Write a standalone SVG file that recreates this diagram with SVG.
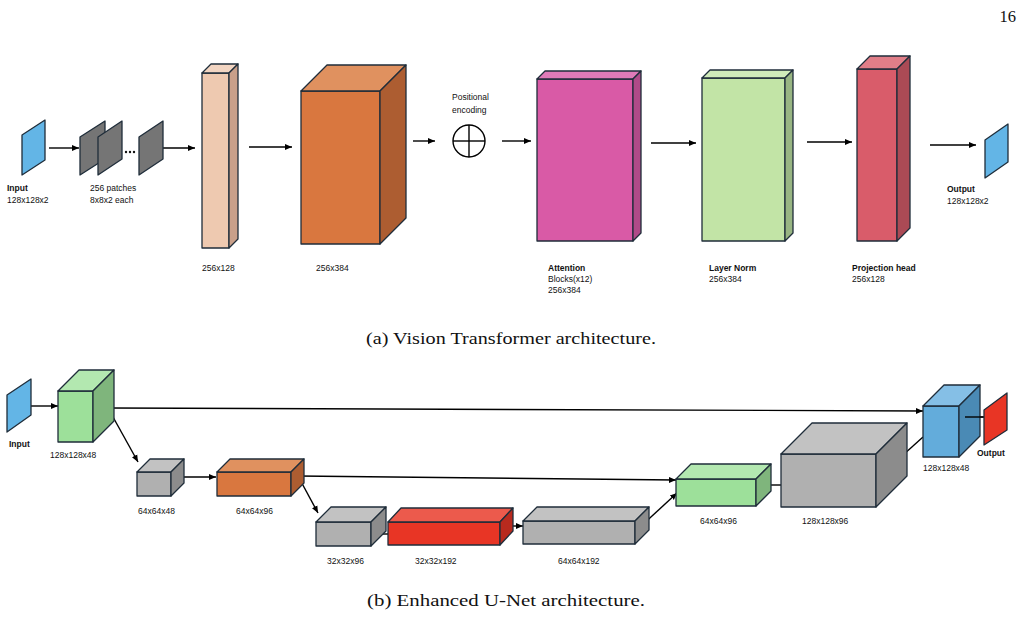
<svg xmlns="http://www.w3.org/2000/svg" width="1025" height="617" viewBox="0 0 1025 617">
<defs>
<marker id="ah" markerWidth="8" markerHeight="8" refX="7" refY="4" orient="auto" markerUnits="userSpaceOnUse"><path d="M0,1 L7,4 L0,7 z" fill="#000"/></marker>
<style>
.s{stroke:#1f2d3a;stroke-width:1.3;stroke-linejoin:round}
.t{font-family:"Liberation Sans",Arial,sans-serif;font-size:8.5px;fill:#111}
.b{font-weight:bold}
.cap{font-family:"Liberation Serif","Times New Roman",serif;font-size:16.5px;fill:#111}
.c line,.c path{stroke:#000;stroke-width:1.4;fill:none}
</style>
</defs>
<rect width="1025" height="617" fill="#fff"/>
<text x="1016" y="22" class="cap" text-anchor="end" font-size="14">16</text>
<g class="c">
<line x1="49" y1="148" x2="79" y2="148" marker-end="url(#ah)"/>
<line x1="151" y1="148" x2="195" y2="148" marker-end="url(#ah)"/>
<line x1="249" y1="147" x2="292" y2="147" marker-end="url(#ah)"/>
<line x1="413" y1="141" x2="435" y2="141" marker-end="url(#ah)"/>
<line x1="502" y1="141" x2="531" y2="141" marker-end="url(#ah)"/>
<line x1="651" y1="143" x2="696" y2="143" marker-end="url(#ah)"/>
<line x1="807" y1="142" x2="852" y2="142" marker-end="url(#ah)"/>
<line x1="930" y1="145" x2="976" y2="145" marker-end="url(#ah)"/>
</g>
<g id="vit-input"><polygon points="22,135 45,120 45,160 22,175" fill="#63b5e6" class="s" stroke-width="0.8"/><text x="7" y="191" class="t b">Input</text><text x="7" y="203" class="t">128x128x2</text></g>
<g id="patches">
<polygon points="80,137 105,121 105,159 80,175" fill="#757575" class="s" stroke-width="0.8"/>
<polygon points="98,137 122,121 122,159 98,175" fill="#757575" class="s" stroke-width="0.8"/>
<circle cx="126" cy="152" r="1.2" fill="#111"/><circle cx="130" cy="152" r="1.2" fill="#111"/><circle cx="134" cy="152" r="1.2" fill="#111"/>
<polygon points="139,137 163,121 163,159 139,175" fill="#757575" class="s" stroke-width="0.8"/>
<text x="90" y="191" class="t">256 patches</text><text x="90" y="203" class="t">8x8x2 each</text></g>
<g id="embed" class="s"><rect x="202" y="73" width="27" height="175" fill="#eec9b0"/><polygon points="202,73 211,64 238,64 229,73" fill="#f2d5c2"/><polygon points="229,73 238,64 238,239 229,248" fill="#c9a08a"/><text x="202" y="271" class="t" stroke="none">256x128</text></g>
<g id="proj" class="s"><rect x="301" y="91" width="79" height="153" fill="#d9773f"/><polygon points="301,91 327,65 406,65 380,91" fill="#e0915f"/><polygon points="380,91 406,65 406,218 380,244" fill="#ad5d31"/><text x="316" y="271" class="t" stroke="none">256x384</text></g>
<g id="posenc"><circle cx="469" cy="141" r="16" fill="#fff" stroke="#000" stroke-width="1.4"/><line x1="453" y1="141" x2="485" y2="141" stroke="#000" stroke-width="1.4"/><line x1="469" y1="125" x2="469" y2="157" stroke="#000" stroke-width="1.4"/><text x="452" y="100" class="t">Positional</text><text x="452" y="113" class="t">encoding</text></g>
<g id="attn" class="s"><rect x="537" y="79" width="96" height="162" fill="#d95aa6"/><polygon points="537,79 545,71 641,71 633,79" fill="#e07ab8"/><polygon points="633,79 641,71 641,233 633,241" fill="#b04a88"/><g stroke="none"><text x="548" y="271" class="t b">Attention</text><text x="548" y="282" class="t">Blocks(x12)</text><text x="548" y="293" class="t">256x384</text></g></g>
<g id="ln" class="s"><rect x="702" y="78" width="83" height="163" fill="#c2e4a6"/><polygon points="702,78 710,70 793,70 785,78" fill="#d0ebba"/><polygon points="785,78 793,70 793,233 785,241" fill="#98b583"/><g stroke="none"><text x="709" y="271" class="t b">Layer Norm</text><text x="709" y="282" class="t">256x384</text></g></g>
<g id="head" class="s"><rect x="857" y="69" width="40" height="172" fill="#d95c6a"/><polygon points="857,69 870,56 910,56 897,69" fill="#e07e88"/><polygon points="897,69 910,56 910,228 897,241" fill="#ab4a55"/><g stroke="none"><text x="852" y="271" class="t b">Projection head</text><text x="852" y="282" class="t">256x128</text></g></g>
<g id="vit-output"><polygon points="985,140 1008,124 1008,162 985,178" fill="#63b5e6" class="s" stroke-width="0.8"/><text x="947" y="192" class="t b">Output</text><text x="947" y="204" class="t">128x128x2</text></g>
<text x="366" y="344" class="cap" textLength="290" lengthAdjust="spacingAndGlyphs">(a) Vision Transformer architecture.</text>

<g class="c">
<line x1="31" y1="406" x2="58" y2="406" marker-end="url(#ah)"/>
<line x1="108" y1="408" x2="923" y2="411" marker-end="url(#ah)"/>
<line x1="108" y1="408" x2="138" y2="462" marker-end="url(#ah)"/>
<line x1="173" y1="477" x2="216" y2="477" marker-end="url(#ah)"/>
<line x1="298" y1="476" x2="676" y2="480" marker-end="url(#ah)"/>
<line x1="298" y1="476" x2="318" y2="513" marker-end="url(#ah)"/>
<line x1="371" y1="534" x2="388" y2="534"/>
<line x1="509" y1="526" x2="523" y2="526" marker-end="url(#ah)"/>
<line x1="639" y1="528" x2="677" y2="493" marker-end="url(#ah)"/>
<line x1="756" y1="485" x2="781" y2="485"/>
<line x1="893" y1="464" x2="923" y2="437"/>
<line x1="967" y1="417" x2="988" y2="417"/>
</g>
<g id="un-input"><polygon points="7,395 31,379 31,415 7,432" fill="#63b5e6" class="s" stroke-width="0.8"/><text x="9" y="447" class="t b">Input</text></g>
<g id="enc1" class="s"><rect x="58" y="391" width="35" height="51" fill="#9de09a"/><polygon points="58,391 79,370 114,370 93,391" fill="#b3e8b0"/><polygon points="93,391 114,370 114,421 93,442" fill="#7fb57c"/><text x="50" y="458" class="t" stroke="none">128x128x48</text></g>
<g id="pool1" class="s"><rect x="137" y="472" width="34" height="24" fill="#b0b0b0"/><polygon points="137,472 150,459 184,459 171,472" fill="#c2c2c2"/><polygon points="171,472 184,459 184,483 171,496" fill="#8c8c8c"/><text x="138" y="514" class="t" stroke="none">64x64x48</text></g>
<g id="enc2" class="s"><rect x="217" y="472" width="74" height="24" fill="#d9773f"/><polygon points="217,472 230,459 304,459 291,472" fill="#e0915f"/><polygon points="291,472 304,459 304,483 291,496" fill="#ad5d31"/><text x="236" y="514" class="t" stroke="none">64x64x96</text></g>
<g id="pool2" class="s"><rect x="316" y="522" width="55" height="24" fill="#b0b0b0"/><polygon points="316,522 331,507 386,507 371,522" fill="#c2c2c2"/><polygon points="371,522 386,507 386,531 371,546" fill="#8c8c8c"/><text x="327" y="564" class="t" stroke="none">32x32x96</text></g>
<g id="bottleneck" class="s"><rect x="388" y="522" width="112" height="23" fill="#e83525"/><polygon points="388,522 401,508 513,508 500,522" fill="#ec5a4c"/><polygon points="500,522 513,508 513,531 500,545" fill="#b82a1e"/><text x="415" y="564" class="t" stroke="none">32x32x192</text></g>
<g id="up1" class="s"><rect x="523" y="521" width="112" height="23" fill="#b0b0b0"/><polygon points="523,521 537,507 649,507 635,521" fill="#c2c2c2"/><polygon points="635,521 649,507 649,530 635,544" fill="#8c8c8c"/><text x="558" y="564" class="t" stroke="none">64x64x192</text></g>
<g id="dec1" class="s"><rect x="676" y="479" width="80" height="27" fill="#9de09a"/><polygon points="676,479 691,464 771,464 756,479" fill="#b3e8b0"/><polygon points="756,479 771,464 771,491 756,506" fill="#7fb57c"/><text x="700" y="524" class="t" stroke="none">64x64x96</text></g>
<g id="up2" class="s"><rect x="781" y="454" width="95" height="53" fill="#b0b0b0"/><polygon points="781,454 812,423 907,423 876,454" fill="#c2c2c2"/><polygon points="876,454 907,423 907,476 876,507" fill="#8c8c8c"/><text x="802" y="524" class="t" stroke="none">128x128x96</text></g>
<g id="dec2" class="s"><rect x="923" y="406" width="36" height="51" fill="#63acdb"/><polygon points="923,406 944,385 980,385 959,406" fill="#85bfe6"/><polygon points="959,406 980,385 980,436 959,457" fill="#4a8ab5"/><text x="923" y="471" class="t" stroke="none">128x128x48</text></g>
<line x1="965" y1="417" x2="985" y2="417" stroke="#000" stroke-width="1.4"/>
<g id="un-output"><polygon points="984,410 1007,393 1007,430 984,445" fill="#e83525" class="s" stroke-width="0.8"/><text x="977" y="456" class="t b">Output</text></g>
<text x="367" y="606" class="cap" textLength="278" lengthAdjust="spacingAndGlyphs">(b) Enhanced U-Net architecture.</text>
</svg>
